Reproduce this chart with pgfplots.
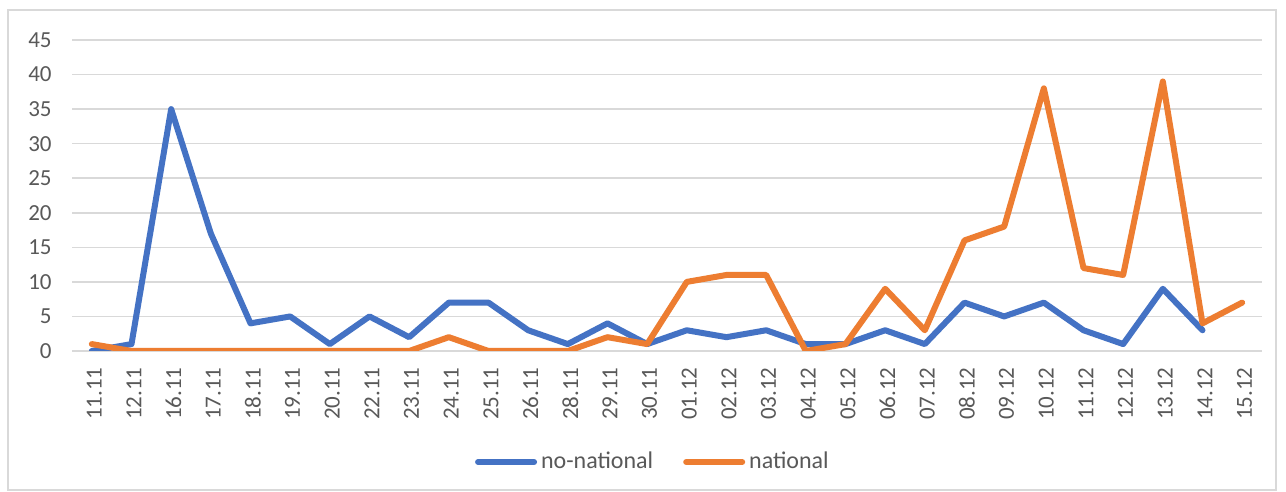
\documentclass[border=0pt]{standalone}
\usepackage{fontspec}
\setmainfont{Carlito}
\usepackage{pgfplots}
\pgfplotsset{compat=1.18}
\definecolor{xblue}{HTML}{4472C4}
\definecolor{xorange}{HTML}{ED7D31}
\definecolor{xgrid}{HTML}{D9D9D9}
\definecolor{xtext}{HTML}{595959}
\begin{document}
\begin{tikzpicture}
\path[use as bounding box, fill=white] (0,0) rectangle (643pt,246pt);
\draw[xgrid, line width=0.6pt] (4pt,1pt) rectangle (638pt,241pt);
\begin{axis}[
  at={(36pt,70.5pt)}, anchor=south west,
  scale only axis, width=595pt, height=155.5pt,
  xmin=-0.5, xmax=29.5, ymin=0, ymax=45,
  ytick={0,5,...,45},
  xtick={0,...,29},
  xticklabels={11.11,12.11,16.11,17.11,18.11,19.11,20.11,22.11,23.11,24.11,25.11,26.11,28.11,29.11,30.11,01.12,02.12,03.12,04.12,05.12,06.12,07.12,08.12,09.12,10.12,11.12,12.12,13.12,14.12,15.12},
  axis line style={draw=none},
  major tick length=0pt,
  ymajorgrids, grid style={xgrid, line width=0.8pt},
  /pgf/number format/assume math mode=true,
  font=\fontsize{11.5}{13}\selectfont,
  ticklabel style={text=xtext, font=\fontsize{11.5}{13}\selectfont},
  yticklabel style={inner sep=0pt, xshift=-10pt},
  xticklabel style={rotate=90, anchor=east, inner sep=0pt, xshift=-8pt, yshift=-1.2pt},
  legend style={draw=none, at={(0.489,-0.357)}, anchor=center, legend columns=2,
    font=\fontsize{12}{14}\selectfont, text=xtext, /tikz/every even column/.append style={column sep=13pt}},
  legend image code/.code={\draw[#1, line cap=round] (0pt,0pt) -- (28pt,0pt);},
]
\addplot[xblue, line width=3pt, line join=round, line cap=round] coordinates {
(0,0) (1,1) (2,35) (3,17) (4,4) (5,5) (6,1) (7,5) (8,2) (9,7) (10,7) (11,3) (12,1) (13,4) (14,1) (15,3) (16,2) (17,3) (18,1) (19,1) (20,3) (21,1) (22,7) (23,5) (24,7) (25,3) (26,1) (27,9) (28,3)
};
\addlegendentry{no-national}
\addplot[xorange, line width=3pt, line join=round, line cap=round] coordinates {
(0,1) (1,0) (2,0) (3,0) (4,0) (5,0) (6,0) (7,0) (8,0) (9,2) (10,0) (11,0) (12,0) (13,2) (14,1) (15,10) (16,11) (17,11) (18,0) (19,1) (20,9) (21,3) (22,16) (23,18) (24,38) (25,12) (26,11) (27,39) (28,4) (29,7)
};
\addlegendentry{national}
\end{axis}
\end{tikzpicture}
\end{document}
